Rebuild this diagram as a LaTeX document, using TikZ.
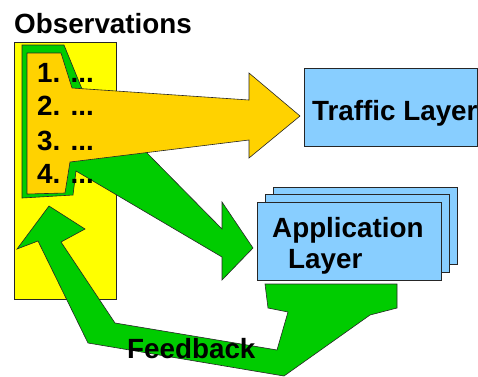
\documentclass[tikz,border=0pt]{standalone}
\usepackage{fontspec}
\setmainfont{Liberation Sans}
\definecolor{obsyellow}{HTML}{FFFF00}
\definecolor{arrorange}{HTML}{FFD200}
\definecolor{arrgreen}{HTML}{00CC00}
\definecolor{layerblue}{HTML}{88CEFF}
\begin{document}
\begin{tikzpicture}[x=1pt, y=-1pt]
    \tikzstyle{outl}=[draw=black!85, line width=.6pt, line join=miter]
    \tikzstyle{lbl}=[inner sep=0pt, anchor=base west, font=\bfseries\fontsize{27.8}{31}\selectfont]
    \useasboundingbox (0,0) rectangle (478,376);
    % observations sheet
    \filldraw[outl, fill=obsyellow] (14,42) rectangle (116,299);
    % green frame and arrow down to the application layer
    \filldraw[outl, fill=arrgreen] (22,45) -- (64,45) -- (82,89) -- (120,120) -- (147,153)
      -- (222,229) -- (222,202) -- (253,248) -- (222,280) -- (222,257)
      -- (76,171) -- (73,195) -- (22,198) -- cycle;
    % orange frame and arrow to the traffic layer
    \filldraw[outl, fill=arrorange] (27,53) -- (61,53) -- (72,88) -- (249,100)
      -- (249,73) -- (300,116) -- (249,158) -- (249,140)
      -- (70,162) -- (65,193) -- (27,194) -- cycle;
    % layers
    \filldraw[outl, fill=layerblue] (304,68) rectangle (477,146);
    \filldraw[outl, fill=layerblue] (273,187) rectangle (457,264);
    \filldraw[outl, fill=layerblue] (265,194) rectangle (449,272);
    \filldraw[outl, fill=layerblue] (257,202) rectangle (441,280);
    % feedback arrow
    \filldraw[outl, fill=arrgreen] (49,206) -- (85,229) -- (61,242) -- (115,323)
      -- (277,350) -- (288,312) -- (268,308) -- (265,284) -- (397,284)
      -- (397,308) -- (370,315) -- (284,376) -- (88,343) -- (38,241)
      -- (17,249) -- cycle;
    % texts
    \node[lbl] (obs) at (14,33) {Observations};
    \foreach \i/\y in {1/82,2/115,3/150,4/183}
      \node[lbl] (item\i) at (37,\y) {\i. ...};
    \node[lbl] (traffic) at (312,120) {Traffic Layer};
    \node[lbl] (app1) at (272,237) {Application};
    \node[lbl] (app2) at (288,268) {Layer};
    \node[lbl] (fb) at (127,358) {Feedback};
\end{tikzpicture}
\end{document}
